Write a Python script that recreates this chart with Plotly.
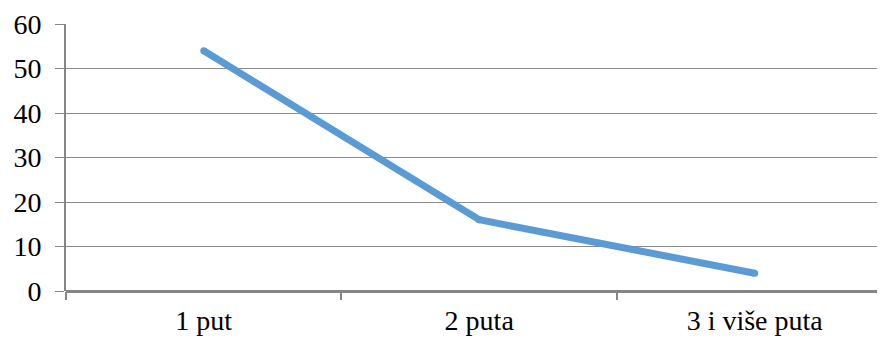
import plotly.graph_objects as go

categories = ["1 put", "2 puta", "3 i više puta"]
values = [54, 16, 4]
y_ticks = [0, 10, 20, 30, 40, 50, 60]

tick_font = dict(family="Liberation Serif", size=28, color="black")

fig = go.Figure()
fig.add_trace(go.Scatter(
    x=categories, y=values, mode="lines+markers",
    line=dict(color="#5B9BD5", width=7),
    marker=dict(color="#5B9BD5", size=7, line=dict(width=0)),
    hoverinfo="skip", showlegend=False,
))

fig.update_layout(
    template="none",
    width=877, height=332,
    margin=dict(l=58, r=0, t=16, b=49),
    paper_bgcolor="white", plot_bgcolor="white",
    font=tick_font,
)
fig.update_xaxes(
    type="category", range=[-0.5, 2.473], automargin=False,
    showgrid=False, showline=False, zeroline=False,
    ticks="outside", tickson="boundaries", ticklen=8, tickwidth=2, tickcolor="#868686",
    tickfont=tick_font, ticklabelstandoff=10,
)
fig.update_yaxes(
    range=[0, 60], tickvals=y_ticks, automargin=False,
    showgrid=True, gridcolor="#8c8c8c", gridwidth=1.3,
    zeroline=True, zerolinecolor="#868686", zerolinewidth=2.5,
    showline=True, linecolor="#868686", linewidth=2,
    ticks="outside", ticklen=9, tickwidth=1.3, tickcolor="#868686",
    tickfont=tick_font, ticklabelstandoff=8,
)

fig.write_html("out.html")
